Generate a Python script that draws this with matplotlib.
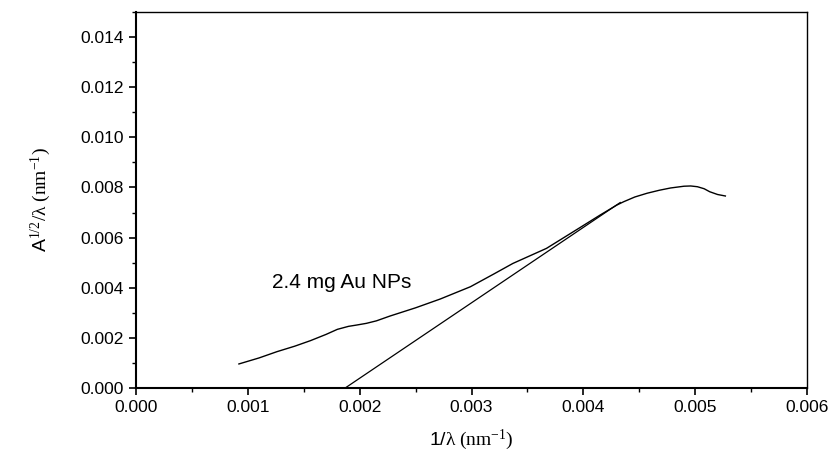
import matplotlib.pyplot as plt
from matplotlib.ticker import MultipleLocator, FormatStrFormatter

plt.rcParams['font.family'] = ['Liberation Sans', 'DejaVu Sans']
plt.rcParams['mathtext.fontset'] = 'custom'
plt.rcParams['mathtext.rm'] = 'Liberation Serif'
plt.rcParams['mathtext.it'] = 'Liberation Serif:italic'
plt.rcParams['mathtext.sf'] = 'Liberation Sans'

# spectrum curve
inv_lambda = [0.00092, 0.00110, 0.00126, 0.00142, 0.00156, 0.00170, 0.00180,
              0.00190, 0.00197, 0.00206, 0.00215, 0.00227, 0.00250, 0.00272,
              0.00299, 0.00320, 0.00337, 0.00367, 0.00397, 0.00415, 0.00430,
              0.00436, 0.00446, 0.00457, 0.00468, 0.00478, 0.00490, 0.00496,
              0.00502, 0.00508, 0.00513, 0.00520, 0.00527]
absorb = [0.00096, 0.00120, 0.00145, 0.00167, 0.00189, 0.00214, 0.00234,
          0.00246, 0.00251, 0.00258, 0.00268, 0.00287, 0.00320, 0.00355,
          0.00404, 0.00455, 0.00497, 0.00557, 0.00640, 0.00690, 0.00730,
          0.00743, 0.00762, 0.00777, 0.00789, 0.00798, 0.00805, 0.00806,
          0.00803, 0.00795, 0.00783, 0.00772, 0.00766]

# tangent (Tauc) line
fit_x = [0.00187, 0.00433]
fit_y = [0.0, 0.0074]

fig = plt.figure(figsize=(8.33, 4.58), dpi=100)
ax = fig.add_axes([0.1633, 0.1528, 0.8055, 0.821])

ax.plot(inv_lambda, absorb, color='black', lw=1.0)
ax.plot(fit_x, fit_y, color='black', lw=0.9)

ax.text(0.001216, 0.00399, '2.4 mg Au NPs', fontsize=15, va='baseline')

ax.set_xlim(0, 0.006)
ax.set_ylim(0, 0.015)
ax.xaxis.set_major_locator(MultipleLocator(0.001))
ax.xaxis.set_minor_locator(MultipleLocator(0.0005))
ax.yaxis.set_major_locator(MultipleLocator(0.002))
ax.yaxis.set_minor_locator(MultipleLocator(0.001))
ax.xaxis.set_major_formatter(FormatStrFormatter('%.3f'))
ax.yaxis.set_major_formatter(FormatStrFormatter('%.3f'))

ax.tick_params(which='both', direction='out', top=False, right=False, labelsize=12.5)
ax.tick_params(which='major', length=5, width=1.2)
ax.tick_params(which='minor', length=3, width=1.0)
for s in ['left', 'bottom']:
    ax.spines[s].set_linewidth(1.5)
for s in ['top', 'right']:
    ax.spines[s].set_linewidth(1.0)

ax.set_xlabel(r'$\mathsf{1/}\mathrm{\lambda\ (nm^{-1})}$', fontsize=14, labelpad=9)
ax.set_ylabel(r'$\mathsf{A}^{\mathit{1/2}}\mathrm{/\lambda\ (nm^{-1})}$', fontsize=14, labelpad=20)

fig.savefig('out.png', dpi=100)
